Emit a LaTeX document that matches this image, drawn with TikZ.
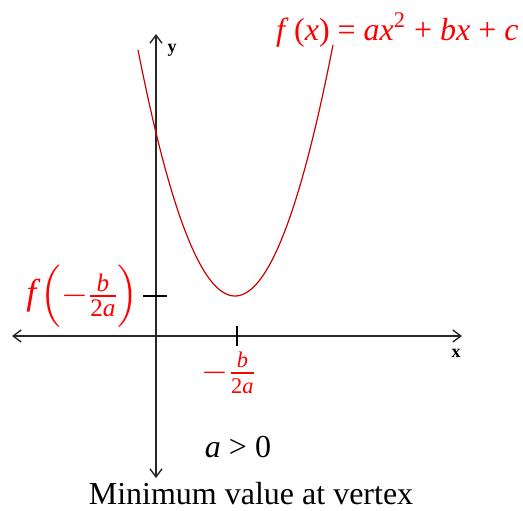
\documentclass[tikz,border=0pt]{standalone}
\usepackage{amsmath}
\usepackage{fontspec}
\setmainfont{Liberation Serif}
\usetikzlibrary{arrows.meta}
\newcommand{\vi}[1]{\textit{#1}}
\begin{document}
\begin{tikzpicture}[x=0.5pt, y=-0.5pt, font=\fontsize{16}{19}\selectfont]
\tikzstyle{axis}=[draw=black!85, line width=0.7pt, {Straight Barb[length=4pt,width=6pt]}-{Straight Barb[length=4pt,width=6pt]}]
\tikzstyle{curve}=[draw=red!80!black, line width=0.6pt]
\tikzstyle{redlabel}=[text=red, inner sep=1pt]
\tikzstyle{tick}=[draw=black, line width=0.7pt]
    \useasboundingbox (0,0) rectangle (523,510);
    % axes
    \coordinate (xl) at (12,336);
    \coordinate (xr) at (462,336);
    \coordinate (yt) at (156,34);
    \coordinate (yb) at (156,478);
    \draw[axis] (xl) -- (xr);
    \draw[axis] (yb) -- (yt);
    \node (ylab) at (172,50) {\fontsize{9}{10}\selectfont\bfseries y};
    \node (xlab) at (456,353) {\fontsize{9}{10}\selectfont\bfseries x};
    % parabola
    \coordinate (v) at (235,296);
    \draw[curve] plot[domain=138:333, samples=80] (\x, {296-0.02615*(\x-235)^2});
    % ticks
    \coordinate (tx1) at (237,326);
    \coordinate (tx2) at (237,346);
    \draw[tick] (tx1) -- (tx2);
    \coordinate (ty1) at (143,296);
    \coordinate (ty2) at (167,296);
    \draw[tick] (ty1) -- (ty2);
    % labels
    \node (fv) [redlabel, anchor=east] at (141,296) {\fontsize{18}{20}\selectfont\vi{f}$\Bigl(-\frac{\vi{b}}{\textrm{2}\vi{a}}\Bigr)$};
    \node (xv) [redlabel] at (229,373) {$-\frac{\vi{b}}{\textrm{2}\vi{a}}$};
    \node (fx) [redlabel, anchor=east] at (521,30) {\fontsize{16}{19}\selectfont\vi{f}\,(\vi{x}) = \vi{ax}\textsuperscript{2} + \vi{bx} + \vi{c}};
    \node (cond) at (238,447) {\vi{a} > 0};
    \node (cap) at (251,494) {Minimum value at vertex};
\end{tikzpicture}
\end{document}
